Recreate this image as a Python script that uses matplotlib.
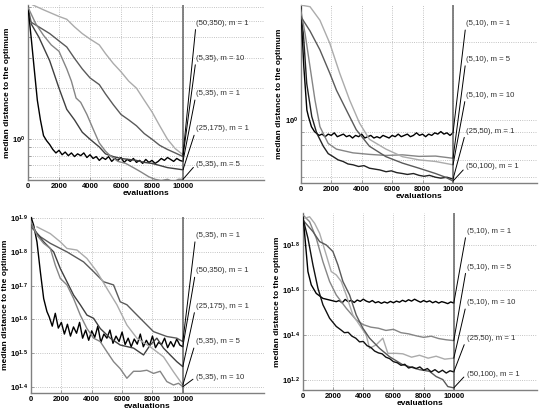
import matplotlib
matplotlib.use('Agg')
import matplotlib.pyplot as plt
from matplotlib.ticker import FixedLocator, FuncFormatter, NullLocator, NullFormatter, LogLocator
import numpy as np

plt.rcParams['font.family'] = ['Liberation Sans', 'DejaVu Sans']
plt.rcParams['mathtext.fontset'] = 'custom'
plt.rcParams['mathtext.rm'] = 'Liberation Sans'
plt.rcParams['mathtext.bf'] = 'Liberation Sans:bold'

# ---- panel 1 (top left) ----
p1_a_x = [300, 1000, 2000, 2500, 3000, 3500, 4000, 4600, 5000, 5500, 6000, 6500, 7000, 7500, 8000, 8500, 9000, 9500, 10000]
p1_a_y = [6.2, 5.8, 5.3, 5.1, 4.6, 4.2, 3.9, 3.6, 3.2, 2.8, 2.5, 2.2, 2.0, 1.7, 1.45, 1.2, 1.0, 0.88, 0.81]
p1_b_x = [0, 200, 700, 1400, 2000, 2500, 3000, 3500, 4000, 4600, 5000, 5500, 6000, 6500, 7000, 7500, 8000, 8500, 9000, 9500, 10000]
p1_b_y = [6.0, 4.9, 4.6, 4.2, 3.8, 3.5, 3.0, 2.6, 2.3, 2.1, 1.85, 1.6, 1.4, 1.3, 1.2, 1.08, 1.0, 0.92, 0.87, 0.83, 0.79]
p1_c_x = [0, 200, 400, 600, 800, 1000, 1200, 1400] + list(range(1600, 10001, 200))
p1_c_y = [6.0, 4.0, 2.6, 1.7, 1.3, 1.05, 0.98, 0.93,
          0.87, 0.83, 0.86, 0.81, 0.84, 0.80, 0.83, 0.79, 0.82, 0.80,
          0.83, 0.78, 0.81, 0.77, 0.79, 0.75, 0.78, 0.76, 0.79, 0.74,
          0.77, 0.75, 0.78, 0.73, 0.76, 0.74, 0.77, 0.73, 0.75, 0.72,
          0.76, 0.73, 0.75, 0.72, 0.74, 0.77, 0.75, 0.78, 0.76, 0.74,
          0.77, 0.75, 0.74]
p1_d_x = [200, 700, 1400, 2000, 2500, 3000, 3500, 4000, 4600, 5000, 5500, 6000, 6500, 7000, 7500, 8000, 8500, 9000, 9500, 10000]
p1_d_y = [4.8, 4.0, 2.9, 2.0, 1.5, 1.3, 1.1, 1.0, 0.9, 0.82, 0.79, 0.77, 0.76, 0.75, 0.73, 0.72, 0.70, 0.68, 0.67, 0.66]
p1_e_x = [0, 500, 1000, 1500, 2000, 2200, 2500, 2800, 3100, 3400, 3800, 4200, 4600, 5000, 5300, 5800, 6300, 6800, 7300, 7800, 8200, 8600, 9000, 9400, 9700, 10000]
p1_e_y = [6.0, 4.8, 4.1, 3.6, 3.3, 3.0, 2.6, 2.2, 1.75, 1.65, 1.4, 1.15, 0.95, 0.85, 0.8, 0.74, 0.72, 0.68, 0.64, 0.6, 0.58, 0.57, 0.58, 0.56, 0.58, 0.58]
p1_labels = ['(50,350), m = 1', '(5,35), m = 10', '(5,35), m = 1', '(25,175), m = 1', '(5,35), m = 5']

# ---- panel 2 (top right) ----
p2_p_x = [0, 200, 400, 500, 700, 900] + list(range(1000, 10001, 200))
p2_p_y = [2.73, 1.6, 1.09, 1.03, 0.94, 0.90,
          0.89, 0.87, 0.88, 0.86, 0.88, 0.87, 0.89, 0.86, 0.87, 0.88,
          0.86, 0.87, 0.85, 0.87, 0.86, 0.88, 0.85, 0.86, 0.87, 0.85,
          0.86, 0.85, 0.87, 0.86, 0.85, 0.87, 0.86, 0.88, 0.86, 0.87,
          0.88, 0.86, 0.87, 0.89, 0.87, 0.88, 0.86, 0.88, 0.87, 0.89,
          0.88, 0.90, 0.88, 0.89, 0.87, 0.89]
p2_q_x = [0, 170, 390, 720, 1040, 1480, 1800, 2130, 2450, 2780, 3100, 3430, 3800, 4150, 4510,
          4850, 5200, 5600, 5950, 6300, 6680, 7000, 7400, 7770, 8100, 8450, 8850, 9200, 9600, 10000]
p2_q_y = [2.57, 2.15, 1.38, 1.03, 0.89, 0.79, 0.74, 0.72, 0.70, 0.69, 0.675, 0.67, 0.66, 0.665, 0.65,
          0.645, 0.64, 0.63, 0.635, 0.625, 0.62, 0.615, 0.62, 0.61, 0.605, 0.61, 0.60, 0.595, 0.60, 0.59]
p2_r_x = [0, 282, 607, 933, 1258, 1800, 2343, 3427, 4512, 5597, 6681, 7766, 8850, 10000]
p2_r_y = [2.65, 2.15, 1.6, 1.19, 0.94, 0.81, 0.77, 0.745, 0.735, 0.728, 0.732, 0.722, 0.724, 0.71]
p2_s_x = [0, 607, 1258, 1909, 2560, 3210, 3861, 4512, 5597, 6681, 7766, 8850, 10000]
p2_s_y = [2.77, 2.73, 2.42, 1.97, 1.51, 1.19, 0.97, 0.84, 0.77, 0.72, 0.70, 0.69, 0.67]
p2_t_x = [0, 607, 1258, 1909, 2343, 2993, 3644, 4512, 5597, 6681, 7766, 8850, 9501, 10000]
p2_t_y = [2.5, 2.2, 1.86, 1.51, 1.30, 1.09, 0.915, 0.79, 0.72, 0.68, 0.65, 0.62, 0.60, 0.58]
p2_labels = ['(5,10), m = 1', '(5,10), m = 5', '(5,10), m = 10', '(25,50), m = 1', '(50,100), m = 1']

# ---- panel 3 (bottom left) ----
p3_k_x = [0, 175, 395, 615, 835, 1050] + list(range(1200, 10001, 200))
p3_k_y = [80.3, 75.9, 67.6, 55.2, 45.9, 42.0,
          40.5, 38.0, 41.5, 37.5, 39.0, 36.0, 38.5, 35.5, 37.8, 36.2,
          39.0, 35.0, 37.0, 34.5, 36.8, 35.2, 38.0, 34.0, 36.0, 35.0,
          37.0, 33.8, 35.5, 34.2, 36.5, 33.5, 35.0, 33.0, 34.8, 33.6,
          36.0, 33.0, 34.5, 33.2, 35.5, 32.8, 34.0, 33.5, 35.0, 32.8,
          34.2, 33.0, 34.8, 33.4, 33.0]
p3_l_x = [0, 614, 1272, 2368, 3465, 4123, 4781, 5439, 5877, 6316, 6754, 7412, 8070, 8947, 9605, 10000]
p3_l_y = [75.0, 70.1, 67.0, 63.2, 59.0, 55.2, 51.5, 50.4, 44.9, 44.0, 42.0, 39.2, 36.6, 35.4, 35.0, 34.2]
p3_m_x = [0, 395, 833, 1491, 1930, 2368, 2807, 3246, 3684, 4123, 4561, 5219, 5877, 6754, 7412, 7851, 8289, 8728, 9167, 9605, 10000]
p3_m_y = [76.7, 71.6, 67.7, 63.2, 56.4, 51.5, 47.0, 44.0, 41.0, 40.1, 37.4, 35.0, 33.4, 32.7, 31.2, 33.4, 35.0, 32.7, 31.2, 29.8, 28.8]
p3_n_x = [395, 1272, 1930, 2368, 3026, 3684, 4342, 5000, 5658, 6316, 6974, 7851, 8728, 9386, 10000]
p3_n_y = [75.0, 71.6, 67.7, 64.7, 64.0, 60.4, 55.2, 49.2, 44.0, 38.3, 35.0, 33.0, 30.8, 27.8, 25.4]
p3_o_x = [0, 395, 833, 1272, 1601, 1930, 2368, 2807, 3246, 3684, 4123, 4561, 5000, 5439, 5877,
          6316, 6754, 7193, 7632, 8070, 8509, 8947, 9386, 9715, 10000]
p3_o_y = [77.6, 70.8, 67.0, 64.7, 57.7, 52.7, 50.4, 45.9, 41.0, 37.4, 35.0, 34.2, 31.9, 29.8, 28.4,
          26.6, 27.9, 27.9, 28.1, 27.5, 27.9, 26.0, 25.4, 25.7, 25.1]
p3_labels = ['(5,35), m = 1', '(50,350), m = 1', '(25,175), m = 1', '(5,35), m = 5', '(5,35), m = 10']

# ---- panel 4 (bottom right) ----
p4_u_x = [0, 177, 331, 552, 883, 1325, 2208] + list(range(2400, 10001, 200))
p4_u_y = [85.7, 63.1, 48.1, 42.0, 38.5, 36.6, 35.4,
          35.8, 35.0, 36.2, 35.4, 35.9, 35.1, 36.0, 35.5, 36.3, 35.6,
          35.2, 35.8, 35.0, 35.4, 34.8, 35.3, 34.9, 35.5, 35.0, 35.6,
          35.2, 35.9, 35.4, 36.1, 35.6, 36.3, 35.7, 35.2, 35.8, 35.3,
          35.7, 35.0, 35.5, 34.9, 35.4, 35.1, 34.7, 35.3, 34.9]
p4_v_x = [0, 442, 883, 1325, 1766, 2208, 2870, 3532, 4000, 4500, 5000, 5500, 6000, 6500, 7000, 7500, 8000, 8500, 9000, 9500, 10000]
p4_v_y = [85.7, 80.0, 67.6, 53.2, 43.5, 37.9, 33.1, 29.4, 28.0, 27.3, 27.0, 26.4, 26.7, 25.8, 25.5, 25.0, 24.6, 24.9, 24.3, 24.0, 23.8]
p4_w_x = [110, 442, 773, 1104, 1545, 1876, 2208, 2539, 2870, 3311, 3753, 4194, 4415, 4857, 5298, 5629, 6181,
          6623, 7200, 7726, 8300, 8830, 9400, 10000]
p4_w_y = [82.8, 84.1, 78.7, 71.1, 57.0, 48.1, 46.5, 43.5, 37.9, 30.9, 27.9, 25.2, 22.0, 22.8, 24.4, 20.9, 20.9,
          20.8, 20.1, 20.5, 19.9, 20.3, 19.7, 19.9]
p4_x_x = [0, 662, 1104, 1545, 1987, 2318, 2649, 3091, 3532, 3974, 4415, 5077, 5740, 6623, 7726, 8389, 8830, 9272, 9603, 10000]
p4_x_y = [81.3, 72.3, 65.3, 63.1, 59.0, 51.5, 43.5, 37.9, 30.9, 27.0, 24.4, 22.0, 20.2, 18.6, 17.7, 17.4, 16.5, 16.0, 14.9, 14.7]
p4_y_x = [0, 331, 662, 993, 1325, 1766, 2208] + list(range(2500, 10001, 250))
p4_y_y = [82.8, 67.6, 51.5, 40.6, 34.3, 29.9, 27.5,
          26.6, 25.8, 25.9, 24.9, 24.4, 23.5, 23.6, 22.6, 22.2, 21.4,
          21.0, 20.8, 20.1, 19.8, 19.2, 19.0, 18.5, 18.7, 18.0, 18.2,
          17.9, 18.2, 17.6, 17.9, 17.3, 17.7, 17.2, 17.6, 17.1, 17.5,
          17.3]
p4_labels = ['(5,10), m = 1', '(5,10), m = 5', '(5,10), m = 10', '(25,50), m = 1', '(50,100), m = 1']

BLACK, DARK, DARK2, MID, LIGHT = '#000000', '#404040', '#5a5a5a', '#858585', '#ababab'

fig = plt.figure(figsize=(5.4, 4.09), dpi=100)


def panel(rect, series, labels, ylim, xmax, yticks):
    ax = fig.add_axes(rect)
    ax.set_yscale('log')
    for x, y, c in series:
        ax.plot(x, y, color=c, lw=1.0, zorder=3)
    ax.set_xlim(0, xmax)
    ax.set_ylim(*ylim)
    ax.axvline(10000, color='#6e6e6e', lw=1.2, zorder=4)

    ax.xaxis.set_major_locator(FixedLocator([0, 2000, 4000, 6000, 8000, 10000]))
    ax.yaxis.set_major_locator(FixedLocator(yticks))
    ax.yaxis.set_major_formatter(FuncFormatter(
        lambda v, p: r'$\mathbf{10^{%g}}$' % round(np.log10(v), 1)))
    if len(yticks) == 1:
        ax.yaxis.set_minor_locator(LogLocator(subs=np.arange(2, 10)))
    else:
        ax.yaxis.set_minor_locator(NullLocator())
    ax.yaxis.set_minor_formatter(NullFormatter())
    ax.grid(True, which='both', ls=':', color='#b0b0b0', lw=0.6)

    for s in ['top', 'right']:
        ax.spines[s].set_visible(False)
    for s in ['left', 'bottom']:
        ax.spines[s].set_color('#808080')
        ax.spines[s].set_linewidth(1.0)
    ax.tick_params(axis='both', which='both', direction='in', length=2, width=0.5,
                   color='#808080', labelsize=5.5, pad=2)
    for t in ax.get_xticklabels():
        t.set_fontweight('bold')
    ax.set_xlabel('evaluations', fontsize=6, fontweight='bold', labelpad=0)
    ax.set_ylabel('median distance to the optimum', fontsize=6, fontweight='bold', labelpad=1)

    # labels to the right, joined to the final values
    order = sorted(range(len(series)), key=lambda i: -series[i][1][-1])
    fracs = np.linspace(0.895, 0.09, len(labels))
    for rank, i in enumerate(order):
        ax.annotate(labels[rank], xy=(10000, series[i][1][-1]), xycoords='data',
                    xytext=(10850, fracs[rank]), textcoords=('data', 'axes fraction'),
                    ha='left', va='center', fontsize=5.6, color='#303030',
                    arrowprops=dict(arrowstyle='-', color='black', lw=0.7,
                                    relpos=(0, 0.5), shrinkA=0, shrinkB=0),
                    annotation_clip=False, zorder=5)
    return ax


panel([0.0519, 0.560, 0.437, 0.428],
      [(p1_a_x, p1_a_y, LIGHT), (p1_b_x, p1_b_y, DARK2), (p1_c_x, p1_c_y, BLACK),
       (p1_d_x, p1_d_y, DARK), (p1_e_x, p1_e_y, MID)],
      p1_labels, (0.575, 6.2), 15230, [1])

panel([0.557, 0.5526, 0.437, 0.435],
      [(p2_p_x, p2_p_y, BLACK), (p2_q_x, p2_q_y, '#222222'), (p2_r_x, p2_r_y, MID),
       (p2_s_x, p2_s_y, LIGHT), (p2_t_x, p2_t_y, DARK2)],
      p2_labels, (0.57, 2.77), 15500, [1])

panel([0.0574, 0.0391, 0.431, 0.430],
      [(p3_k_x, p3_k_y, BLACK), (p3_l_x, p3_l_y, DARK2), (p3_m_x, p3_m_y, DARK),
       (p3_n_x, p3_n_y, LIGHT), (p3_o_x, p3_o_y, MID)],
      p3_labels, (10 ** 1.381, 10 ** 1.904), 15330,
      [10 ** 1.4, 10 ** 1.5, 10 ** 1.6, 10 ** 1.7, 10 ** 1.8, 10 ** 1.9])

panel([0.561, 0.0465, 0.433, 0.433],
      [(p4_u_x, p4_u_y, BLACK), (p4_v_x, p4_v_y, MID), (p4_w_x, p4_w_y, LIGHT),
       (p4_x_x, p4_x_y, DARK2), (p4_y_x, p4_y_y, '#111111')],
      p4_labels, (10 ** 1.158, 10 ** 1.942), 15500,
      [10 ** 1.2, 10 ** 1.4, 10 ** 1.6, 10 ** 1.8])

fig.savefig('out.png', dpi=100)
